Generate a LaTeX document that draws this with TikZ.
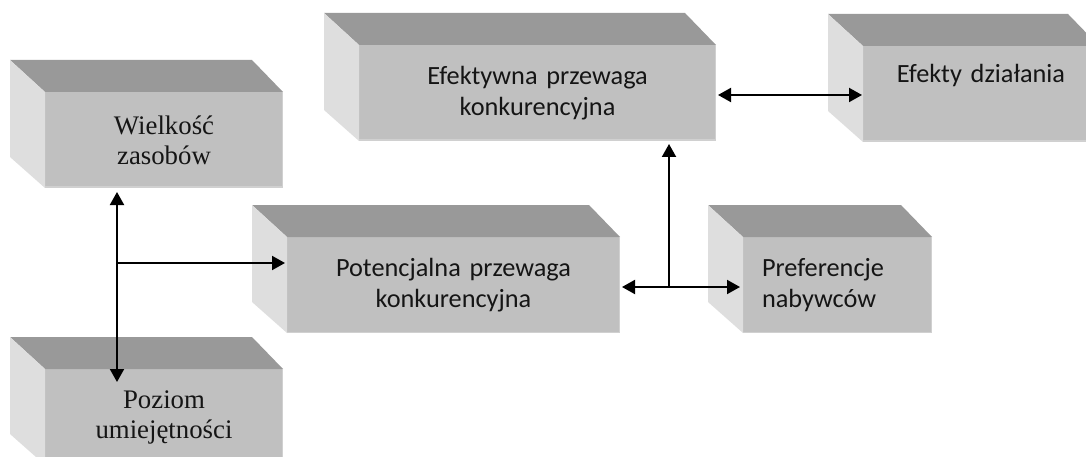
\documentclass[tikz,border=0pt]{standalone}
\usepackage{fontspec}
\setmainfont{Liberation Serif}
\newfontfamily\calibri{Carlito}
\usetikzlibrary{calc,arrows.meta}

\definecolor{frontgray}{HTML}{C0C0C0}
\definecolor{topgray}{HTML}{999999}
\definecolor{sidegray}{HTML}{DEDEDE}
\definecolor{rimgray}{HTML}{D0D0D0}
\definecolor{ink}{HTML}{151515}

\tikzset{
  front/.style={fill=frontgray, anchor=north west, inner sep=0pt, outer sep=0pt,
    minimum height=96pt, align=center, text=ink},
  seriftext/.style={font=\fontsize{26.8}{30}\selectfont},
  sanstext/.style={font=\calibri\fontsize{26.3}{31}\selectfont},
  topface/.style={fill=topgray},
  sideface/.style={fill=sidegray},
  rim/.style={draw=rimgray, line width=1.5pt},
  conn/.style={line width=2pt, -{Triangle[length=13pt,width=14pt]}},
  biconn/.style={line width=2pt, {Triangle[length=13pt,width=14pt]}-{Triangle[length=13pt,width=14pt]}},
}

% top and left faces of a block, built on the anchors of its front face
\newcommand{\blocksides}[1]{%
  \fill[topface] (#1.north west) -- ++(-35,-32) -- ($(#1.north east)+(-31,-32)$)
    -- (#1.north east) -- cycle;
  \fill[sideface] (#1.north west) -- ++(-35,-32) -- ($(#1.south west)+(-35,-31)$)
    -- (#1.south west) -- cycle;
  \draw[rim] ($(#1.south west)+(0,-0.75)$) -- ($(#1.south east)+(-0.75,-0.75)$)
    -- ($(#1.north east)+(-0.75,0)$);
}

\begin{document}
\begin{tikzpicture}[x=1pt, y=-1pt]
  \clip (0,0) rectangle (1086,457);

  % front faces with their texts
  \node[front, seriftext, minimum width=238pt, text width=228pt] (W) at (45,92)
    {Wielkość\\zasobów};
  \node[front, seriftext, minimum width=238pt, text width=228pt] (P) at (45,369)
    {Poziom\\umiejętności};
  \node[front, sanstext, minimum width=333pt, text width=323pt] (Pot) at (287,237)
    {Potencjalna przewaga\\konkurencyjna};
  \node[front, sanstext, minimum width=357pt, text width=347pt] (Ef) at (359,45)
    {Efektywna przewaga\\konkurencyjna};
  \node[front, sanstext, minimum width=189pt, text width=151pt, inner xsep=19pt,
    align=left] (Pref) at (743,237)
    {Preferencje\\nabywców};
  \node[front, sanstext, minimum width=236pt, text width=226pt] (Efk) at (863,46)
    {Efekty działania\\\strut};

  \blocksides{W}
  \blocksides{P}
  \blocksides{Pot}
  \blocksides{Ef}
  \blocksides{Pref}
  \blocksides{Efk}

  % junctions of the connectors
  \coordinate (ja) at (117,263);
  \coordinate (jb) at (669,287);
  \coordinate (jc) at (717,95);

  % connectors
  \draw[biconn] ($(W.south -| ja)+(0,4)$) -- ($(P.north -| ja)+(0,13)$);
  \draw[conn] (ja) -- ($(Pot.west |- ja)+(-2,0)$);
  \draw[biconn] ($(Pot.east |- jb)+(2,0)$) -- ($(Pref.west |- jb)+(-3,0)$);
  \draw[conn] (jb) -- ($(Ef.south -| jb)+(0,3)$);
  \draw[biconn] ($(Ef.east |- jc)+(2,0)$) -- ($(Efk.west |- jc)+(-1,0)$);
\end{tikzpicture}
\end{document}
